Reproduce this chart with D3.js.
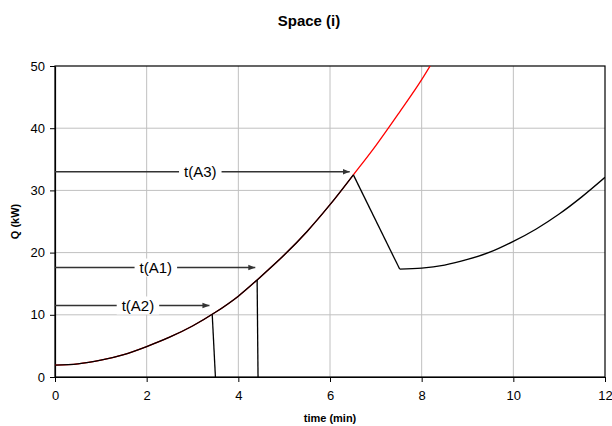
<!DOCTYPE html>
<html>
<head>
<meta charset="utf-8">
<script src="https://cdn.jsdelivr.net/npm/d3@7"></script>
<style>
  body { margin: 0; background: #fff; }
  svg { display: block; font-family: "Liberation Sans", Arial, sans-serif; }
</style>
</head>
<body>
<div id="chart"></div>
<script>
// values
var riseT = [0, 0.5, 1, 1.5, 2, 2.5, 3, 3.5, 4, 4.5, 5, 5.5, 6, 6.51];
var riseQ = [1.9, 2.1, 2.7, 3.6, 4.9, 6.4, 8.2, 10.4, 13.0, 16.2, 19.6, 23.4, 27.7, 32.5];
var redT = [6.51, 7.0, 7.5, 8.0, 8.2];
var redQ = [32.5, 37.2, 42.4, 47.8, 50.2];
var a3T = [6.51, 7.52, 8.0, 8.5, 9.0, 9.5, 10.0, 10.5, 11.0, 11.5, 12.0];
var a3Q = [32.5, 17.35, 17.5, 18.0, 18.9, 20.1, 21.8, 23.8, 26.2, 29.0, 32.1];
var dropA2T = [3.43, 3.50];
var dropA2Q = [10.1, 0];
var dropA1T = [4.41, 4.43];
var dropA1Q = [15.6, 0];

var arrowLabels = ["t(A3)", "t(A1)", "t(A2)"];
var arrowQ = [33.0, 17.6, 11.5];
var arrowTipT = [6.43, 4.37, 3.37];
var labelT = [3.17, 2.2, 1.81];

var xTicks = [0, 2, 4, 6, 8, 10, 12];
var yTicks = [0, 10, 20, 30, 40, 50];

var width = 612, height = 426;
var plotL = 55, plotR = 605, plotT = 66, plotB = 377;

var x = d3.scaleLinear().domain([0, 12]).range([plotL, plotR]);
var y = d3.scaleLinear().domain([0, 50]).range([plotB, plotT]);

var svg = d3.select("#chart").append("svg")
    .attr("width", width)
    .attr("height", height);

var defs = svg.append("defs");
defs.append("clipPath").attr("id", "plotclip")
  .append("rect")
    .attr("x", plotL).attr("y", plotT)
    .attr("width", plotR - plotL).attr("height", plotB - plotT);

defs.append("marker")
    .attr("id", "head")
    .attr("viewBox", "0 0 10 10")
    .attr("refX", 10).attr("refY", 5)
    .attr("markerWidth", 5).attr("markerHeight", 5)
    .attr("markerUnits", "strokeWidth")
    .attr("orient", "auto")
  .append("path")
    .attr("d", "M0,1 L10,5 L0,9 Z")
    .attr("fill", "#333");

// gridlines
svg.append("g").selectAll("line").data(xTicks.slice(1, -1)).enter().append("line")
    .attr("x1", d => x(d)).attr("x2", d => x(d))
    .attr("y1", plotT).attr("y2", plotB)
    .attr("stroke", "#c0c0c0").attr("stroke-width", 1);
svg.append("g").selectAll("line").data(yTicks.slice(1, -1)).enter().append("line")
    .attr("x1", plotL).attr("x2", plotR)
    .attr("y1", d => y(d)).attr("y2", d => y(d))
    .attr("stroke", "#c0c0c0").attr("stroke-width", 1);

// frame
svg.append("rect")
    .attr("x", plotL).attr("y", plotT)
    .attr("width", plotR - plotL).attr("height", plotB - plotT)
    .attr("fill", "none").attr("stroke", "#000").attr("stroke-width", 1.2);

// axes
var xAxis = svg.append("g")
    .attr("transform", "translate(0," + plotB + ")")
    .call(d3.axisBottom(x).tickValues(xTicks).tickSize(5).tickPadding(9).tickSizeOuter(0));
var yAxis = svg.append("g")
    .attr("transform", "translate(" + plotL + ",0)")
    .call(d3.axisLeft(y).tickValues(yTicks).tickSize(5).tickPadding(5).tickSizeOuter(0));
[xAxis, yAxis].forEach(function(g) {
  g.select(".domain").attr("stroke", "#000").attr("stroke-width", 1.2);
  g.selectAll(".tick line").attr("stroke", "#000").attr("stroke-width", 1);
  g.selectAll(".tick text")
      .attr("font-family", "Liberation Sans, Arial, sans-serif")
      .attr("font-size", 13).attr("fill", "#000");
});

// curves
var line = d3.line().x(d => x(d[0])).y(d => y(d[1]));
var smooth = d3.line().x(d => x(d[0])).y(d => y(d[1])).curve(d3.curveMonotoneX);
var zip = (a, b) => a.map((v, i) => [v, b[i]]);

var plot = svg.append("g").attr("clip-path", "url(#plotclip)");

plot.append("path")
    .datum(zip(riseT.concat(redT.slice(1)), riseQ.concat(redQ.slice(1))))
    .attr("fill", "none").attr("stroke", "#ff0000").attr("stroke-width", 1.3)
    .attr("d", smooth);

plot.append("path")
    .datum(zip(riseT, riseQ))
    .attr("fill", "none").attr("stroke", "#000").attr("stroke-width", 1.3)
    .attr("d", smooth);

plot.append("path")
    .datum(zip(a3T.slice(0, 2), a3Q.slice(0, 2)))
    .attr("fill", "none").attr("stroke", "#000").attr("stroke-width", 1.3)
    .attr("d", line);

plot.append("path")
    .datum(zip(a3T.slice(1), a3Q.slice(1)))
    .attr("fill", "none").attr("stroke", "#000").attr("stroke-width", 1.3)
    .attr("d", smooth);

[[dropA2T, dropA2Q], [dropA1T, dropA1Q]].forEach(function(s) {
  plot.append("path")
      .datum(zip(s[0], s[1]))
      .attr("fill", "none").attr("stroke", "#000").attr("stroke-width", 1.3)
      .attr("d", line);
});

// arrows with labels
arrowLabels.forEach(function(lab, i) {
  var g = svg.append("g");
  g.append("line")
      .attr("x1", plotL).attr("x2", x(arrowTipT[i]))
      .attr("y1", y(arrowQ[i])).attr("y2", y(arrowQ[i]))
      .attr("stroke", "#333").attr("stroke-width", 1.4)
      .attr("marker-end", "url(#head)");
  var t = g.append("text")
      .attr("x", x(labelT[i]))
      .attr("y", y(arrowQ[i]))
      .attr("dy", "0.35em")
      .attr("text-anchor", "middle")
      .attr("font-size", 15)
      .attr("fill", "#000")
      .text(lab);
  var bb = t.node().getBBox();
  g.insert("rect", "text")
      .attr("x", bb.x - 5).attr("y", y(arrowQ[i]) - 9)
      .attr("width", bb.width + 10).attr("height", 18)
      .attr("fill", "#fff");
});

// titles
svg.append("text")
    .attr("x", 309).attr("y", 26)
    .attr("text-anchor", "middle")
    .attr("font-size", 15).attr("font-weight", "bold")
    .text("Space (i)");
svg.append("text")
    .attr("x", (plotL + plotR) / 2).attr("y", 422)
    .attr("text-anchor", "middle")
    .attr("font-size", 11).attr("font-weight", "bold")
    .text("time (min)");
svg.append("text")
    .attr("transform", "translate(19," + (plotT + plotB) / 2 + ") rotate(-90)")
    .attr("text-anchor", "middle")
    .attr("font-size", 11).attr("font-weight", "bold")
    .text("Q (kW)");
</script>
</body>
</html>
